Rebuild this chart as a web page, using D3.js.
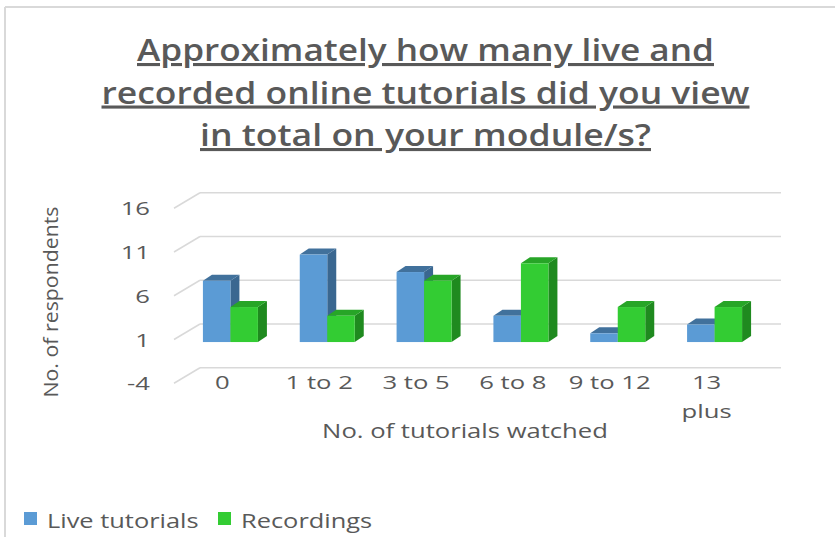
<!DOCTYPE html>
<html>
<head>
<meta charset="utf-8">
<script src="https://cdn.jsdelivr.net/npm/d3@7"></script>
<style>
  html, body { margin: 0; padding: 0; background: #fff; }
  svg { display: block; font-family: "Open Sans", "Noto Sans", sans-serif; }
</style>
</head>
<body>
<svg id="chart" width="835" height="537"></svg>
<script>
// ---- data ----
const categories = ["0", "1 to 2", "3 to 5", "6 to 8", "9 to 12", "13 plus"];
const liveTutorials = [7, 10, 8, 3, 1, 2];
const recordings = [4, 3, 7, 9, 4, 4];
const seriesNames = ["Live tutorials", "Recordings"];
const yTicks = [-4, 1, 6, 11, 16];
const titleLines = ["Approximately how many live and", "recorded online tutorials did you view", "in total on your module/s?"];
const xTitle = "No. of tutorials watched";
const yTitle = "No. of respondents";

// ---- styles ----
const textColor = "#595959";
const gridColor = "#d9d9d9";
const palette = [
  { front: "#5b9bd5", top: "#41719c", side: "#3a6790" },
  { front: "#33cc33", top: "#27a527", side: "#1f8a1f" }
];

const svg = d3.select("#chart");

// widen text horizontally (the reference text is wide-set)
function stretch(sel, factor) {
  sel.each(function () {
    const n = this.getComputedTextLength();
    d3.select(this).attr("textLength", n * factor).attr("lengthAdjust", "spacingAndGlyphs");
  });
  return sel;
}

// chart border (top + left only visible)
svg.append("line").attr("x1", 5).attr("x2", 835).attr("y1", 7).attr("y2", 7)
  .attr("stroke", gridColor).attr("stroke-width", 2);
svg.append("line").attr("x1", 5).attr("x2", 5).attr("y1", 7).attr("y2", 537)
  .attr("stroke", gridColor).attr("stroke-width", 2);

// ---- title ----
const titleBase = [61, 103.5, 146];
const titleWidths = [577, 648, 451];
svg.append("g").selectAll("text").data(titleLines).join("text")
  .attr("x", 425.5).attr("y", (d, i) => titleBase[i])
  .attr("text-anchor", "middle")
  .attr("font-size", 31).attr("font-weight", 600)
  .attr("fill", textColor)
  .attr("text-decoration", "underline")
  .attr("textLength", (d, i) => titleWidths[i])
  .attr("lengthAdjust", "spacingAndGlyphs")
  .text(d => d);

// ---- scales (back wall plane) ----
const wallLeft = 200, wallRight = 781;
const y = d3.scaleLinear().domain([-4, 16]).range([367.75, 192.75]);
const x0 = d3.scaleBand().domain(categories).range([wallLeft, wallRight]).padding(0);
const x1 = d3.scaleBand().domain(seriesNames).range([-27.5, 27.5]).padding(0);
const depthX = -26, depthY = 15.5;     // back wall -> front edge
const barShiftX = -18, barShiftY = 9.3; // back wall -> bar front plane
const barDX = 9, barDY = -6;           // bar thickness

// gridlines on back wall + diagonal on side wall
const grid = svg.append("g");
grid.selectAll("line.h").data(yTicks).join("line").attr("class", "h")
  .attr("x1", wallLeft).attr("x2", wallRight)
  .attr("y1", d => y(d)).attr("y2", d => y(d))
  .attr("stroke", gridColor).attr("stroke-width", 1.5);
grid.selectAll("line.d").data(yTicks).join("line").attr("class", "d")
  .attr("x1", wallLeft + depthX).attr("x2", wallLeft)
  .attr("y1", d => y(d) + depthY).attr("y2", d => y(d))
  .attr("stroke", gridColor).attr("stroke-width", 1.5);

// y tick labels
stretch(svg.append("g").selectAll("text").data(yTicks).join("text")
  .attr("x", 150).attr("y", d => y(d) + depthY + 7)
  .attr("text-anchor", "end")
  .attr("font-size", 19).attr("fill", textColor)
  .text(d => d), 1.35);

// ---- bars ----
const rows = [];
categories.forEach((c, i) => {
  [liveTutorials, recordings].forEach((arr, j) => {
    rows.push({ cat: c, series: seriesNames[j], j, v: arr[i] });
  });
});
const bars = svg.append("g");
rows.forEach(r => {
  const xl = x0(r.cat) + x0.bandwidth() / 2 + barShiftX + x1(r.series);
  const w = x1.bandwidth();
  const yb = y(0) + barShiftY;
  const yt = y(r.v) + barShiftY;
  const col = palette[r.j];
  const g = bars.append("g");
  g.append("polygon")
    .attr("points", [[xl + w, yt], [xl + w + barDX, yt + barDY], [xl + w + barDX, yb + barDY], [xl + w, yb]].join(" "))
    .attr("fill", col.side);
  g.append("polygon")
    .attr("points", [[xl, yt], [xl + barDX, yt + barDY], [xl + w + barDX, yt + barDY], [xl + w, yt]].join(" "))
    .attr("fill", col.top);
  g.append("rect").attr("x", xl).attr("y", yt).attr("width", w).attr("height", yb - yt)
    .attr("fill", col.front);
});

// category labels on front edge
const catLabels = svg.append("g");
categories.forEach(c => {
  const cx = x0(c) + x0.bandwidth() / 2 + depthX;
  const words = c === "13 plus" ? ["13", "plus"] : [c];
  words.forEach((wd, k) => {
    stretch(catLabels.append("text")
      .attr("x", cx).attr("y", 389 + k * 29)
      .attr("text-anchor", "middle").attr("font-size", 19).attr("fill", textColor)
      .text(wd), 1.35);
  });
});

// axis titles
stretch(svg.append("text").attr("x", 465).attr("y", 438)
  .attr("text-anchor", "middle").attr("font-size", 20).attr("fill", textColor)
  .text(xTitle), 1.28);
svg.append("text")
  .attr("transform", "translate(58,302) rotate(-90)")
  .attr("text-anchor", "middle").attr("font-size", 20).attr("fill", textColor)
  .attr("textLength", 191).attr("lengthAdjust", "spacingAndGlyphs")
  .text(yTitle);

// ---- legend ----
const legendX = [24, 218];
const legend = svg.append("g");
seriesNames.forEach((s, j) => {
  legend.append("rect").attr("x", legendX[j]).attr("y", 512).attr("width", 13).attr("height", 13)
    .attr("fill", palette[j].front);
  stretch(legend.append("text").attr("x", legendX[j] + 23).attr("y", 528)
    .attr("font-size", 20).attr("fill", textColor).text(s), 1.27);
});
</script>
</body>
</html>
